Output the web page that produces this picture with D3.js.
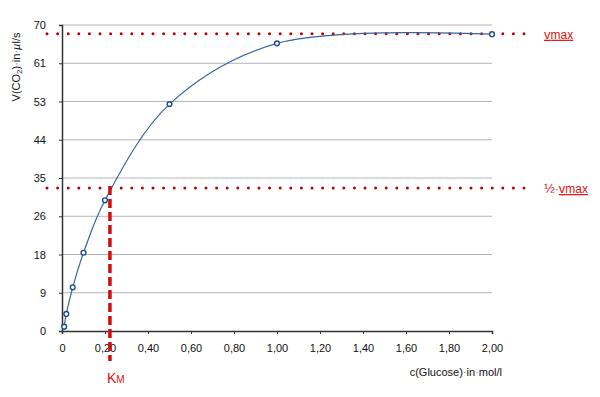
<!DOCTYPE html>
<html>
<head>
<meta charset="utf-8">
<script src="https://cdn.jsdelivr.net/npm/d3@7"></script>
<style>
  body { margin: 0; background: #fff; }
  text { font-family: "Liberation Sans", Arial, sans-serif; }
</style>
</head>
<body>
<div id="chart"></div>
<script>
// measured points (glucose in mol/l, CO2 rate in µl/s)
const glucose = [0.01, 0.02, 0.05, 0.1, 0.2, 0.5, 1.0, 2.0];
const rate    = [1.0, 3.9, 10.0, 17.9, 29.9, 51.9, 65.8, 67.9];
const yTicks  = [0, 8.75, 17.5, 26.25, 35, 43.75, 52.5, 61.25, 70];
const xTicks  = [0, 0.2, 0.4, 0.6, 0.8, 1.0, 1.2, 1.4, 1.6, 1.8, 2.0];
const vmax = 68;
const halfVmax = 32.7;
const km = 0.223;

function drawChart(containerId) {
  const margin = { top: 25, right: 108, bottom: 66, left: 62 },
        width = 600 - margin.left - margin.right,
        height = 397 - margin.top - margin.bottom;

  const svg = d3.select(`#${containerId}`)
      .append("svg")
          .attr("width", 600)
          .attr("height", 397)
      .append("g")
          .attr("transform", `translate(${margin.left},${margin.top})`);

  const x = d3.scaleLinear().domain([0, 2]).range([0, width]);
  const y = d3.scaleLinear().domain([0, 70]).range([height, 0]);

  // grid lines
  svg.append("g")
      .selectAll("line")
      .data(yTicks.slice(1))
      .join("line")
          .attr("x1", 0)
          .attr("x2", width)
          .attr("y1", d => y(d))
          .attr("y2", d => y(d))
          .attr("stroke", "#b4b4b4")
          .attr("stroke-width", 1);

  // axes
  const yAxis = svg.append("g")
      .call(d3.axisLeft(y).tickValues(yTicks).tickSize(3).tickPadding(13)
          .tickFormat(d => d3.format(".0f")(d)));
  const xAxis = svg.append("g")
      .attr("transform", `translate(0,${height})`)
      .call(d3.axisBottom(x).tickValues(xTicks).tickSize(3).tickPadding(10)
          .tickFormat(d => d === 0 ? "0" : d3.format(".2f")(d).replace(".", ",")));
  [xAxis, yAxis].forEach(a => {
    a.select(".domain").attr("stroke", "#333").attr("stroke-width", 1.5);
    a.selectAll(".tick line").attr("stroke", "#333");
    a.selectAll("text").style("font-size", "11px").attr("fill", "#111");
  });

  // vmax and half vmax dotted lines
  [vmax, halfVmax].forEach(v => {
    svg.append("line")
        .attr("x1", -15)
        .attr("x2", width + 38)
        .attr("y1", y(v))
        .attr("y2", y(v))
        .attr("stroke", "#c00000")
        .attr("stroke-width", 3)
        .attr("stroke-linecap", "round")
        .attr("stroke-dasharray", "0,10.6");
  });

  // curve
  const data = glucose.map((g, i) => ({ g: g, v: rate[i] }));
  svg.append("path")
      .datum(data)
      .attr("fill", "none")
      .attr("stroke", "#3566a0")
      .attr("stroke-width", 1.2)
      .attr("d", d3.line()
          .curve(d3.curveCatmullRom)
          .x(d => x(d.g))
          .y(d => y(d.v)));

  // Km dashed line
  svg.append("line")
      .attr("x1", x(km))
      .attr("x2", x(km))
      .attr("y1", y(halfVmax) - 2)
      .attr("y2", height + 30)
      .attr("stroke", "#cc1010")
      .attr("stroke-width", 3.5)
      .attr("stroke-dasharray", "9,4");

  // markers
  svg.append("g")
      .selectAll("circle")
      .data(data)
      .join("circle")
          .attr("cx", d => x(d.g))
          .attr("cy", d => y(d.v))
          .attr("r", 2.4)
          .attr("fill", "white")
          .attr("stroke", "#1f4c8a")
          .attr("stroke-width", 1.4);

  // labels
  const red = "#e01010";
  const vLab = svg.append("text")
      .attr("x", width + 52)
      .attr("y", y(vmax) + 5)
      .attr("fill", red)
      .style("font-size", "12px")
      .style("text-decoration", "underline dotted");
  vLab.append("tspan").style("font-size", "13px").text("v");
  vLab.append("tspan").text("max");

  const hLab = svg.append("text")
      .attr("x", width + 52)
      .attr("y", y(halfVmax) + 5)
      .attr("fill", red)
      .style("font-size", "12px");
  hLab.append("tspan").style("font-size", "13px").text("½");
  hLab.append("tspan").attr("fill", "#3b8fd0").text("·");
  const hv = hLab.append("tspan").style("text-decoration", "underline dotted");
  hv.append("tspan").style("font-size", "13px").text("v");
  hv.append("tspan").text("max");

  const kLab = svg.append("text")
      .attr("x", x(km) - 3)
      .attr("y", height + 52)
      .attr("fill", red)
      .style("font-size", "14px");
  kLab.append("tspan").text("K");
  kLab.append("tspan").style("font-size", "10px").text("M");

  const xLab = svg.append("text")
      .attr("x", width + 10)
      .attr("y", height + 45)
      .attr("text-anchor", "end")
      .attr("fill", "#111")
      .style("font-size", "11px");
  xLab.append("tspan").text("c(Glucose)");
  xLab.append("tspan").attr("fill", "#3b8fd0").text("·");
  xLab.append("tspan").text("in");
  xLab.append("tspan").attr("fill", "#3b8fd0").text("·");
  xLab.append("tspan").text("mol/l");

  const yLab = svg.append("text")
      .attr("transform", "rotate(-90)")
      .attr("x", -42)
      .attr("y", -42)
      .attr("text-anchor", "middle")
      .attr("fill", "#111")
      .style("font-size", "11px");
  yLab.append("tspan").text("V(CO");
  yLab.append("tspan").style("font-size", "8px").attr("dy", 2).text("2");
  yLab.append("tspan").attr("dy", -2).text(")");
  yLab.append("tspan").attr("fill", "#3b8fd0").text("·");
  yLab.append("tspan").text("in");
  yLab.append("tspan").attr("fill", "#3b8fd0").text("·");
  yLab.append("tspan").style("font-style", "italic").text("µ");
  yLab.append("tspan").text("l/s");
}

document.addEventListener("DOMContentLoaded", function () {
  drawChart("chart");
});
</script>
</body>
</html>
